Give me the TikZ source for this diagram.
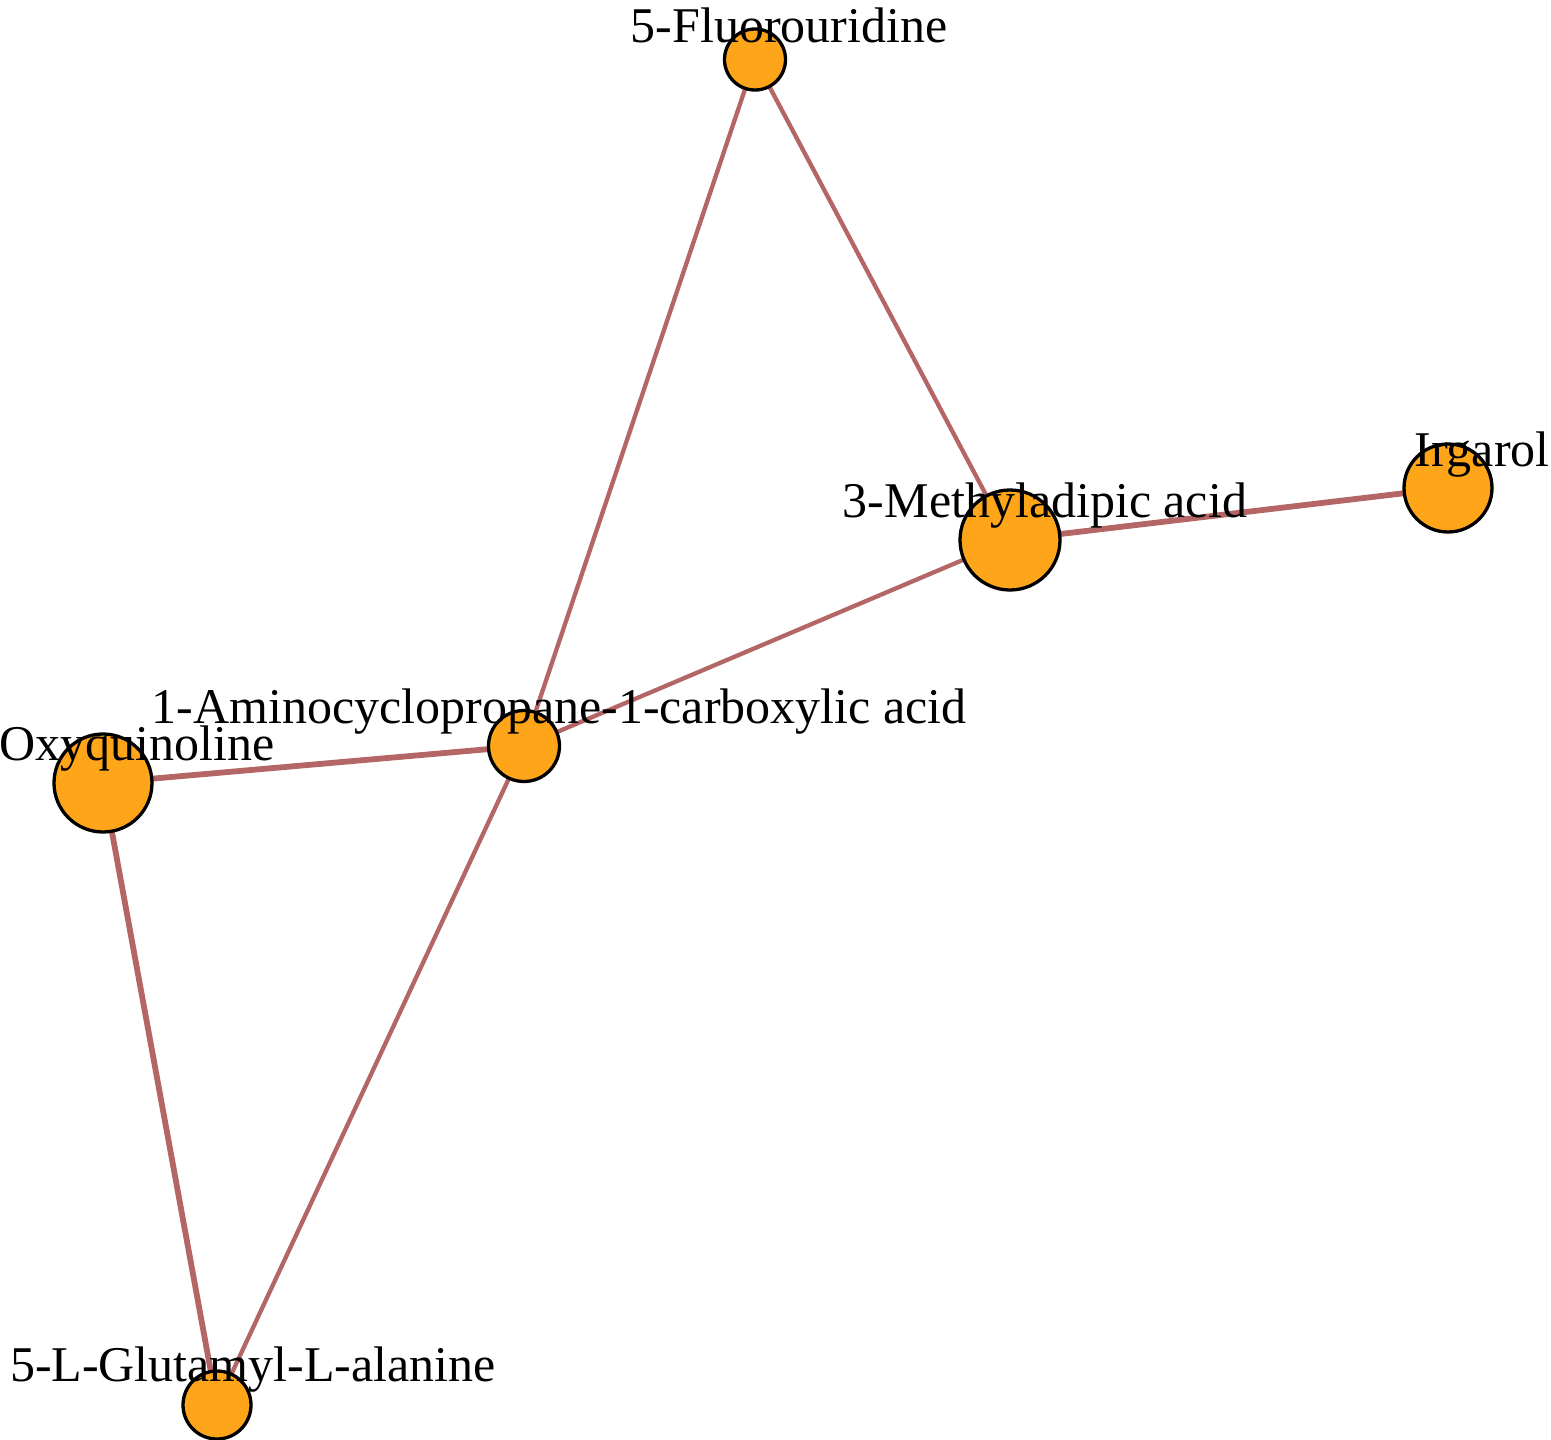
\documentclass[tikz,border=0pt]{standalone}
\usepackage{fontspec}
\setmainfont{Liberation Serif}
\usetikzlibrary{backgrounds}
\definecolor{nodeorange}{RGB}{255,165,26}
\definecolor{edgered}{RGB}{180,102,102}
\begin{document}
\begin{tikzpicture}[x=1pt,y=-1pt,
  mol/.style={circle,draw=black,line width=3.3pt,fill=nodeorange,inner sep=0pt},
  lab/.style={anchor=base,inner sep=0pt,font=\fontsize{50}{60}\selectfont},
  thinedge/.style={draw=edgered,line width=4.3pt},
  thickedge/.style={draw=edgered,line width=5.8pt}]
\useasboundingbox (0,0) rectangle (1551,1440);
\node[mol,minimum size=61pt]  (fu)  at (755,59.5) {};
\node[mol,minimum size=100pt] (ma)  at (1010,540) {};
\node[mol,minimum size=88pt]  (ir)  at (1448,488) {};
\node[mol,minimum size=71pt]  (acc) at (524,746) {};
\node[mol,minimum size=98pt]  (oxy) at (103,783) {};
\node[mol,minimum size=68pt]  (glu) at (217,1405) {};
\begin{scope}[on background layer]
\draw[thinedge] (fu.center) -- (acc.center);
\draw[thinedge] (fu.center) -- (ma.center);
\draw[thickedge] (ma.center) -- (ir.center);
\draw[thinedge] (ma.center) -- (acc.center);
\draw[thickedge] (acc.center) -- (oxy.center);
\draw[thinedge] (acc.center) -- (glu.center);
\draw[thickedge] (oxy.center) -- (glu.center);
\end{scope}
\node[lab] (lfu)  at (789,42)    {5-Fluorouridine};
\node[lab] (lma)  at (1045,517)  {3-Methyladipic acid};
\node[lab] (lir)  at (1482,466)  {Irgarol};
\node[lab] (lacc) at (559,723)   {1-Aminocyclopropane-1-carboxylic acid};
\node[lab] (loxy) at (137,760)   {Oxyquinoline};
\node[lab] (lglu) at (253,1381)  {5-L-Glutamyl-L-alanine};
\end{tikzpicture}
\end{document}
